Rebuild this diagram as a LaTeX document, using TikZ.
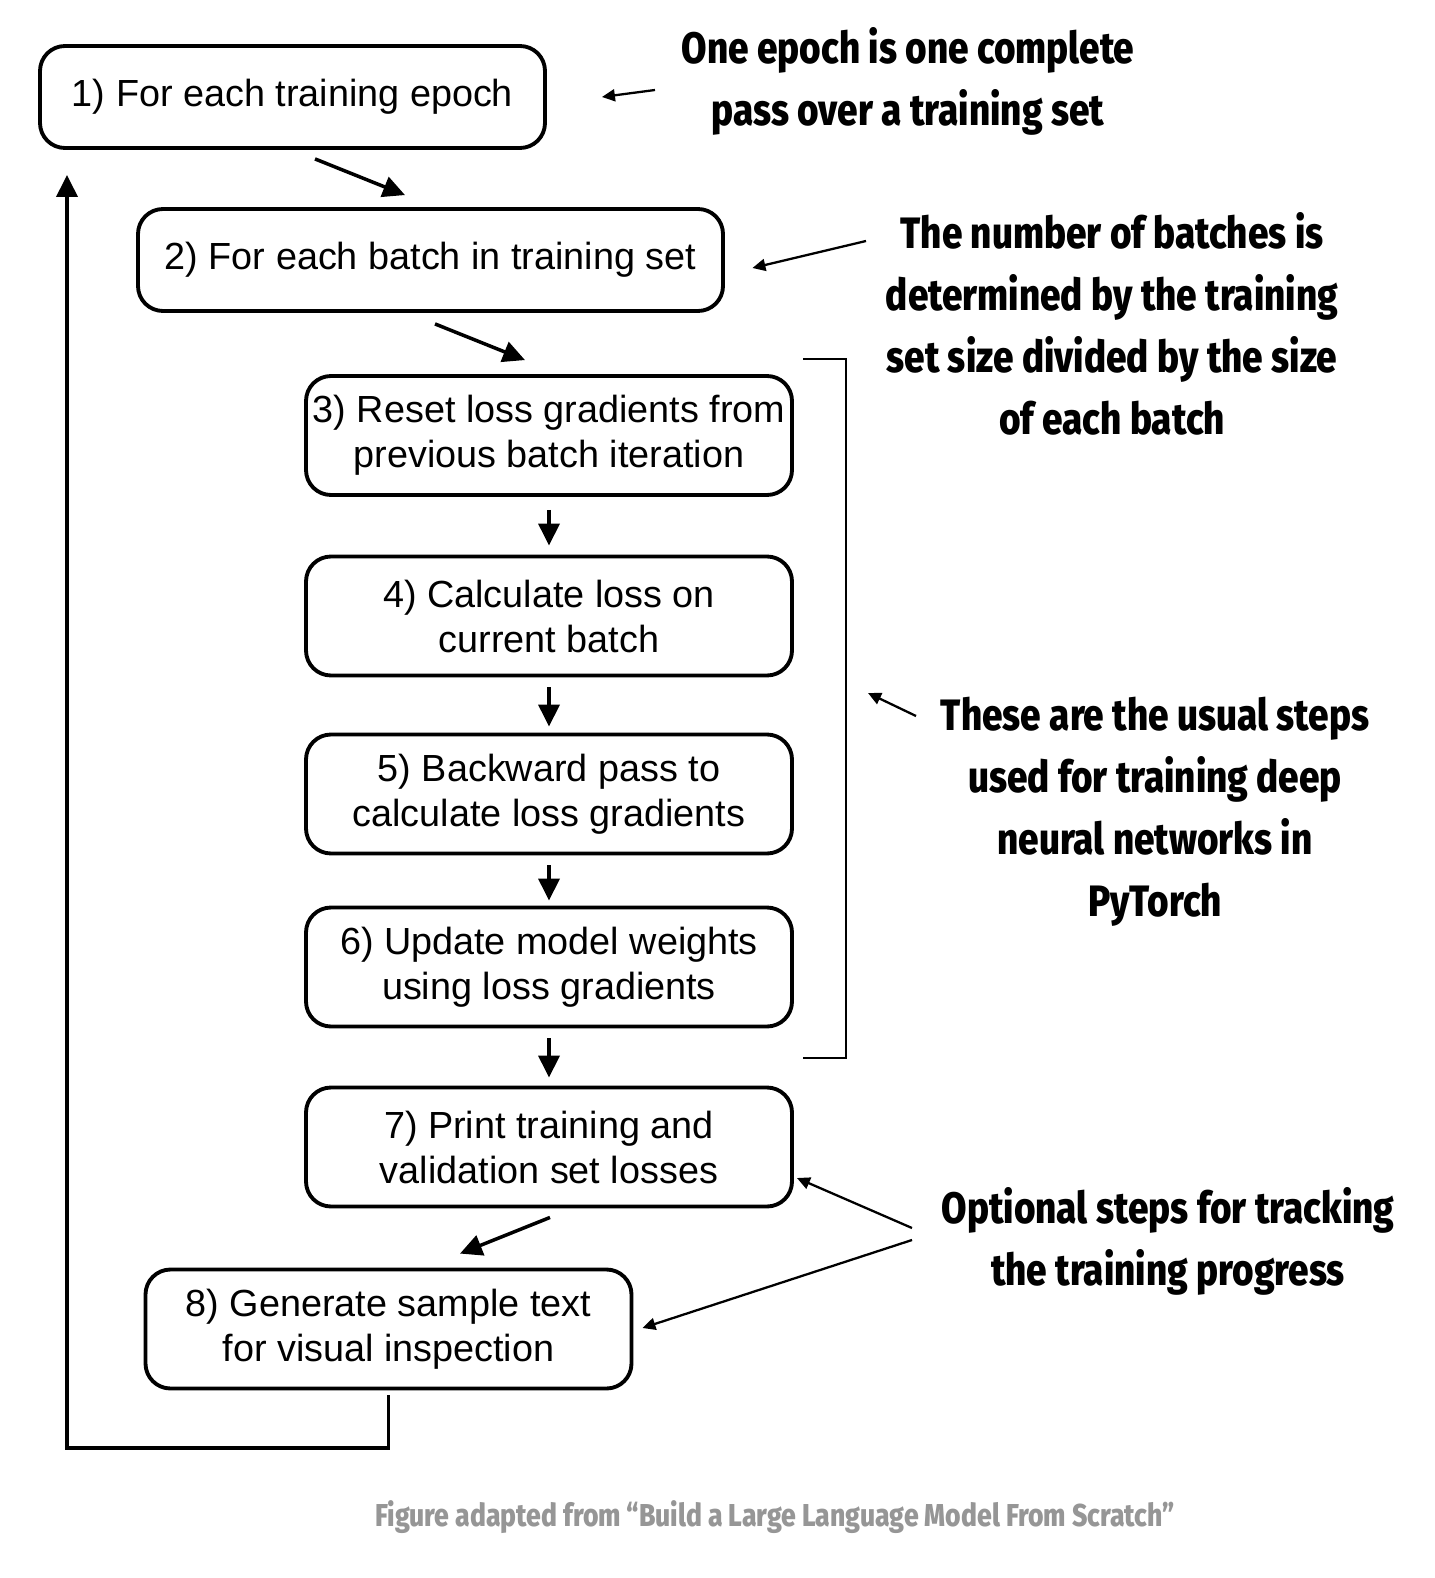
\documentclass[tikz,border=0pt]{standalone}
\usepackage{fontspec}
\setmainfont{Liberation Sans}
\newfontfamily\notefont[FakeStretch=0.84,BoldFont={Fira Sans ExtraBold}]{Fira Sans}
\usetikzlibrary{arrows.meta,positioning}
\definecolor{captiongray}{RGB}{150,150,150}

\begin{document}
\begin{tikzpicture}[
    step node/.style={rectangle,rounded corners=0.5cm,draw,line width=2.2pt,
        minimum width=9.72cm,minimum height=2.38cm,inner sep=0pt,align=center,
        font=\fontsize{21.5}{25.6}\selectfont},
    note node/.style={align=center,font=\notefont\bfseries\fontsize{25}{35.3}\selectfont},
    flow arrow/.style={-{Triangle[length=0.44cm,width=0.42cm]},line width=2pt},
    note arrow/.style={-{Triangle[length=0.26cm,width=0.24cm]},line width=1.3pt}
]
\useasboundingbox (0,0) rectangle (28.68,-31.56);

% Steps
\node[step node, minimum width=10.1cm, minimum height=2.04cm] (epoch) at (5.85,-1.94) {1) For each training epoch};
\node[step node, minimum width=11.7cm, minimum height=2.04cm] (batch) at (8.61,-5.2) {2) For each batch in training set};
\node[step node] (reset) at (10.98,-8.71) {3) Reset loss gradients from\\previous batch iteration};
\node[step node] (loss) at (10.98,-12.32) {4) Calculate loss on\\current batch};
\node[step node] (backward) at (10.98,-15.88) {5) Backward pass to\\calculate loss gradients};
\node[step node] (update) at (10.98,-19.34) {6) Update model weights\\using loss gradients};
\node[step node] (print) at (10.98,-22.94) {7) Print training and\\validation set losses};
\node[step node] (generate) at (7.77,-26.58) {8) Generate sample text\\for visual inspection};

% Notes
\node[note node] (epoch_note) at (18.16,-1.62) {One epoch is one complete\\pass over a training set};
\node[note node] (batch_note) at (22.24,-6.48) {The number of batches is\\determined by the training\\set size divided by the size\\of each batch};
\node[note node] (steps_note) at (23.1,-16.24) {These are the usual steps\\used for training deep\\neural networks in\\PyTorch};
\node[note node] (optional_note) at (23.36,-24.82) {Optional steps for tracking\\the training progress};

% Caption
\node[font=\notefont\bfseries\fontsize{18}{22}\selectfont, text=captiongray] (caption) at (15.5,-30.34) {Figure adapted from “Build a Large Language Model From Scratch”};

% Bracket
\draw[line width=1.6pt] (16.06,-7.18) -- (16.92,-7.18) -- (16.92,-21.16) -- (16.06,-21.16);
\coordinate (bracket) at (17.36,-13.86);

% Note arrow tails
\coordinate (epoch_tail) at (13.1,-1.8);
\coordinate (batch_tail) at (17.32,-4.82);
\coordinate (steps_tail) at (18.32,-14.32);
\coordinate (print_tail) at (18.24,-24.56);
\coordinate (generate_tail) at (18.24,-24.8);

% Arrows
\draw[flow arrow] ([xshift=0.45cm,yshift=-0.18cm]epoch.south) -- ([xshift=-0.51cm,yshift=0.24cm]batch.north);
\draw[flow arrow] ([xshift=0.09cm,yshift=-0.22cm]batch.south) -- ([xshift=-0.48cm,yshift=0.28cm]reset.north);
\draw[flow arrow, shorten <=0.26cm, shorten >=0.18cm] (reset) -- (loss);
\draw[flow arrow, shorten <=0.2cm, shorten >=0.12cm] (loss) -- (backward);
\draw[flow arrow, shorten <=0.2cm, shorten >=0.1cm] (backward) -- (update);
\draw[flow arrow, shorten <=0.2cm, shorten >=0.16cm] (update) -- (print);
\draw[flow arrow] ([xshift=0.02cm,yshift=-0.18cm]print.south) -- ([xshift=1.43cm,yshift=0.28cm]generate.north);

% Loop back
\coordinate (turn) at (1.34,-28.96);
\coordinate (back) at (1.34,-3.5);
\draw[flow arrow, line width=2.2pt] ([yshift=-0.1cm]generate.south) |- (turn) -- (back);

% Note arrows
\draw[note arrow] (epoch_tail) -- ([xshift=1.1cm]epoch.east);
\draw[note arrow] (batch_tail) -- ([xshift=0.55cm,yshift=-0.16cm]batch.east);
\draw[note arrow] (steps_tail) -- (bracket);
\draw[note arrow] (print_tail) -- ([xshift=0.06cm,yshift=-0.62cm]print.east);
\draw[note arrow] (generate_tail) -- ([xshift=0.18cm,yshift=0.02cm]generate.east);

\end{tikzpicture}
\end{document}
